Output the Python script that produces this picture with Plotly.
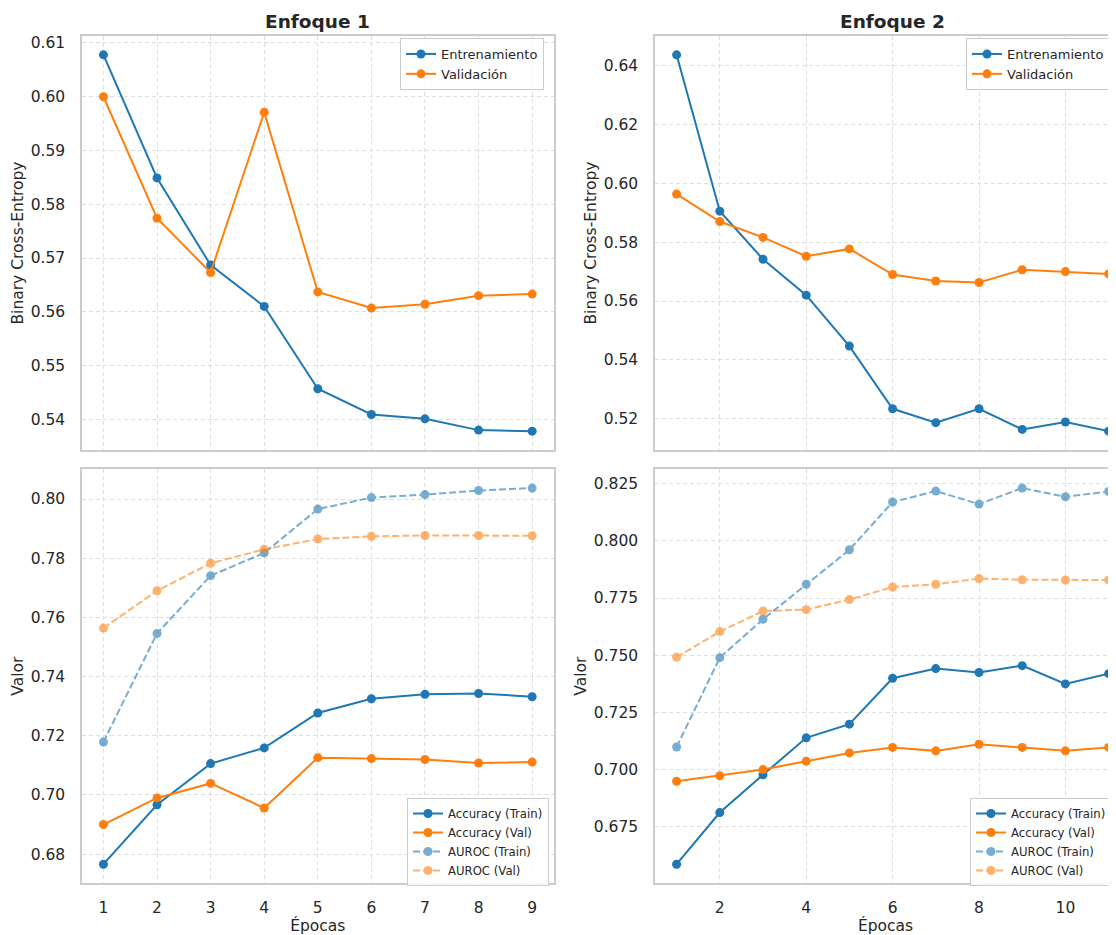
import plotly.graph_objects as go

# ---------------- data ----------------
epochs1 = list(range(1, 10))
epochs2 = list(range(1, 12))

loss_train_1 = [0.6078, 0.5849, 0.5687, 0.5610, 0.5457, 0.5409, 0.5401, 0.5380, 0.5378]
loss_val_1 = [0.6000, 0.5774, 0.5673, 0.5971, 0.5637, 0.5607, 0.5614, 0.5630, 0.5633]
acc_train_1 = [0.6766, 0.6967, 0.7106, 0.7159, 0.7277, 0.7325, 0.7340, 0.7343, 0.7332]
acc_val_1 = [0.6900, 0.6990, 0.7039, 0.6956, 0.7126, 0.7123, 0.7120, 0.7108, 0.7111]
auroc_train_1 = [0.7179, 0.7546, 0.7741, 0.7818, 0.7966, 0.8005, 0.8015, 0.8029, 0.8037]
auroc_val_1 = [0.7564, 0.7690, 0.7783, 0.7830, 0.7865, 0.7874, 0.7877, 0.7877, 0.7876]

loss_train_2 = [0.6436, 0.5905, 0.5742, 0.5620, 0.5447, 0.5234, 0.5187, 0.5234, 0.5164, 0.5189, 0.5158]
loss_val_2 = [0.5963, 0.5870, 0.5816, 0.5752, 0.5777, 0.5690, 0.5668, 0.5663, 0.5706, 0.5700, 0.5692]
acc_train_2 = [0.6585, 0.6811, 0.6976, 0.7138, 0.7198, 0.7399, 0.7441, 0.7424, 0.7454, 0.7374, 0.7419]
acc_val_2 = [0.6948, 0.6972, 0.6999, 0.7036, 0.7072, 0.7096, 0.7081, 0.7110, 0.7096, 0.7081, 0.7096]
auroc_train_2 = [0.7098, 0.7489, 0.7657, 0.7810, 0.7961, 0.8170, 0.8218, 0.8161, 0.8231, 0.8193, 0.8216]
auroc_val_2 = [0.7491, 0.7603, 0.7693, 0.7699, 0.7743, 0.7798, 0.7810, 0.7835, 0.7830, 0.7829, 0.7829]

titles = ["Enfoque 1", "Enfoque 2"]
loss_names = ["Entrenamiento", "Validación"]
metric_names = ["Accuracy (Train)", "Accuracy (Val)", "AUROC (Train)", "AUROC (Val)"]

# ---------------- style ----------------
BLUE = "#1f77b4"
ORANGE = "#ff7f0e"
FONT = "DejaVu Sans"
TXT = "#262626"
FRAME = "#cccccc"
GRID = "#dedede"


def pad(*series, frac=0.05):
    vals = [v for s in series for v in s]
    lo, hi = min(vals), max(vals)
    span = hi - lo
    return [lo - frac * span, hi + frac * span]


fig = go.Figure()


def line(x, y, name, color, xa, ya, legend, dashed=False):
    fig.add_trace(go.Scatter(
        x=x, y=y, name=name, mode="lines+markers",
        xaxis=xa, yaxis=ya, legend=legend,
        line=dict(color=color, width=2, dash="7px,3px" if dashed else "solid"),
        marker=dict(color=color, size=9),
        opacity=0.6 if dashed else 1.0,
    ))


# top-left
line(epochs1, loss_train_1, loss_names[0], BLUE, "x", "y", "legend")
line(epochs1, loss_val_1, loss_names[1], ORANGE, "x", "y", "legend")
# top-right
line(epochs2, loss_train_2, loss_names[0], BLUE, "x2", "y2", "legend2")
line(epochs2, loss_val_2, loss_names[1], ORANGE, "x2", "y2", "legend2")
# bottom-left
line(epochs1, acc_train_1, metric_names[0], BLUE, "x3", "y3", "legend3")
line(epochs1, acc_val_1, metric_names[1], ORANGE, "x3", "y3", "legend3")
line(epochs1, auroc_train_1, metric_names[2], BLUE, "x3", "y3", "legend3", dashed=True)
line(epochs1, auroc_val_1, metric_names[3], ORANGE, "x3", "y3", "legend3", dashed=True)
# bottom-right
line(epochs2, acc_train_2, metric_names[0], BLUE, "x4", "y4", "legend4")
line(epochs2, acc_val_2, metric_names[1], ORANGE, "x4", "y4", "legend4")
line(epochs2, auroc_train_2, metric_names[2], BLUE, "x4", "y4", "legend4", dashed=True)
line(epochs2, auroc_val_2, metric_names[3], ORANGE, "x4", "y4", "legend4", dashed=True)

# the page body has an 8 px margin; the figure is sized so it ends at the window edge
OFF = 8
W, H = 1116 - OFF, 935 - OFF
ML, MR, MT = 82 - OFF, 0, 36 - OFF
MB = H - (883 - OFF)
PW = W - ML - MR
PH = H - MT - MB


def px(xpage):
    return (xpage - OFF - ML) / PW


def py(ypage):
    return (H - MB - (ypage - OFF)) / PH


XL = [px(82), px(553.6)]
XR = [px(655), 1]
YT = [py(450), 1]
YB = [0, py(469.3)]

# right column: epoch 0.5 at the left frame, 43.2 px per epoch, cut at the window edge
right_px_per_epoch = 43.2
right_xmax = 0.5 + (1116 - 655) / right_px_per_epoch

tickfont = dict(family=FONT, size=15.5, color=TXT)
titlefont = dict(family=FONT, size=15.5, color=TXT)


def xax(domain, anchor, rng, showlabels, dtick, tick0, title=None):
    d = dict(domain=domain, anchor=anchor, range=rng, showline=True, mirror=True,
             linecolor=FRAME, linewidth=1.5, showgrid=True, gridcolor=GRID,
             griddash="4px,3px", gridwidth=1, zeroline=False, ticks="",
             tickmode="linear", dtick=dtick, tick0=tick0, showticklabels=showlabels,
             tickfont=tickfont, ticklabelstandoff=10, automargin=False)
    if title:
        d["title"] = dict(text=title, font=titlefont, standoff=3)
    return d


def yax(domain, anchor, rng, dtick, fmt, title, mirror=True):
    return dict(domain=domain, anchor=anchor, range=rng, showline=True, mirror=mirror,
                linecolor=FRAME, linewidth=1.5, showgrid=True, gridcolor=GRID,
                griddash="4px,3px", gridwidth=1, zeroline=False, ticks="",
                tickmode="linear", dtick=dtick, tick0=0, tickformat=fmt,
                tickfont=tickfont, ticklabelstandoff=12, automargin=False,
                title=dict(text=title, font=titlefont, standoff=3))


def legend_box(x, y, size):
    return dict(x=x, y=y, xanchor="left", yanchor="top", xref="paper", yref="paper",
                bgcolor="rgba(255,255,255,0.85)", bordercolor=FRAME, borderwidth=1,
                font=dict(family=FONT, size=size, color=TXT), tracegroupgap=0)


fig.update_layout(
    width=W, height=H,
    margin=dict(l=ML, r=MR, t=MT, b=MB, autoexpand=False),
    paper_bgcolor="white", plot_bgcolor="white",
    font=dict(family=FONT, color=TXT),
    showlegend=True,
    xaxis=xax(XL, "y", [0.6, 9.4], False, 1, 0),
    yaxis=yax(YT, "x", pad(loss_train_1, loss_val_1), 0.01, ".2f", "Binary Cross-Entropy"),
    xaxis2=xax(XR, "y2", [0.5, right_xmax], False, 2, 0),
    yaxis2=yax(YT, "x2", pad(loss_train_2, loss_val_2), 0.02, ".2f", "Binary Cross-Entropy", mirror=False),
    xaxis3=xax(XL, "y3", [0.6, 9.4], True, 1, 0, "Épocas"),
    yaxis3=yax(YB, "x3", pad(acc_train_1, acc_val_1, auroc_train_1, auroc_val_1), 0.02, ".2f", "Valor"),
    xaxis4=xax(XR, "y4", [0.5, right_xmax], True, 2, 0, "Épocas"),
    yaxis4=yax(YB, "x4", pad(acc_train_2, acc_val_2, auroc_train_2, auroc_val_2), 0.025, ".3f", "Valor", mirror=False),
    legend=legend_box(px(400), py(38), 13),
    legend2=legend_box(px(966), py(38), 13),
    legend3=legend_box(px(407), py(798), 11.7),
    legend4=legend_box(px(970), py(798), 11.7),
)

for text, cx in zip(titles, [317.7, 892.5]):
    fig.add_annotation(text=f"<b>{text}</b>", x=px(cx), y=py(21.5),
                       xref="paper", yref="paper", xanchor="center", yanchor="middle",
                       showarrow=False, font=dict(family=FONT, size=18.5, color=TXT))

fig.write_html("out.html")
